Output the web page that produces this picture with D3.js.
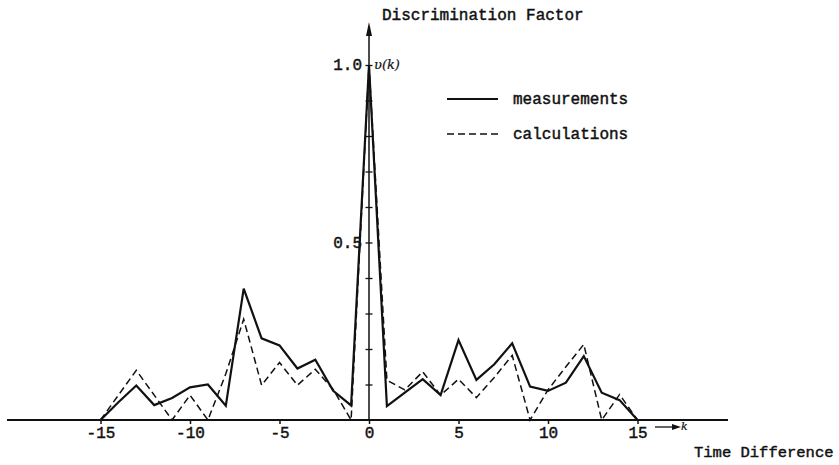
<!DOCTYPE html>
<html>
<head>
<meta charset="utf-8">
<script src="https://cdn.jsdelivr.net/npm/d3@7"></script>
<style>
  body { margin: 0; background: #fff; }
  text { font-family: "Liberation Mono", "DejaVu Sans Mono", monospace; fill: #111; stroke: #111; stroke-width: 0.45px; }
</style>
</head>
<body>
<div id="chart"></div>
<script>
var width = 839, height = 465;

// time difference k
var kValues = d3.range(-15, 16);

// discrimination factor v(k)
var measurements = [0, 0.05, 0.097, 0.042, 0.062, 0.092, 0.10, 0.04, 0.37, 0.23, 0.21, 0.145, 0.17, 0.082, 0.041,
    1.0,
    0.039, 0.077, 0.115, 0.070, 0.225, 0.113, 0.157, 0.216, 0.094, 0.082, 0.105, 0.180, 0.077, 0.056, 0];
var calculations = [0, 0.07, 0.14, 0.07, 0, 0.07, 0, 0.13, 0.284, 0.098, 0.162, 0.098, 0.143, 0.086, 0,
    1.0,
    0.112, 0.085, 0.136, 0.07, 0.115, 0.063, 0.12, 0.182, 0, 0.085, 0.15, 0.213, 0, 0.072, 0];

var xTicks = [-15, -10, -5, 0, 5, 10, 15];
var yTicks = d3.range(1, 11).map(function(i){ return i / 10; });
var yLabels = [0.5, 1.0];

var legendItems = [
    {name: 'measurements', dash: null},
    {name: 'calculations', dash: '7,4'}
];

var x = d3.scaleLinear().domain([-15, 15]).range([100.5, 637.5]);
var y = d3.scaleLinear().domain([0, 1]).range([420, 65]);

var svg = d3.select('#chart').append('svg')
    .attr('width', width)
    .attr('height', height);

// baseline
svg.append('line')
    .attr('x1', 7).attr('x2', 728)
    .attr('y1', y(0)).attr('y2', y(0))
    .attr('stroke', '#111').attr('stroke-width', 2);

// x ticks
var xAxis = svg.append('g')
    .attr('transform', 'translate(0,' + y(0) + ')')
    .call(d3.axisBottom(x).tickValues(xTicks).tickSize(4).tickPadding(3)
        .tickFormat(function(d){ return d < 0 ? '-' + (-d) : d; }));
xAxis.select('.domain').remove();
xAxis.selectAll('.tick line').attr('stroke', '#111').attr('stroke-width', 1.5);
xAxis.selectAll('.tick text')
    .style('font-family', '"Liberation Mono", monospace')
    .style('font-size', '16px')
    .attr('fill', '#111');

// y axis with arrow
var x0 = x(0);
svg.append('line')
    .attr('x1', x0).attr('x2', x0)
    .attr('y1', y(0)).attr('y2', 30)
    .attr('stroke', '#111').attr('stroke-width', 1.5);
svg.append('path')
    .attr('d', 'M' + x0 + ',22 L' + (x0 - 3) + ',36 L' + (x0 + 3) + ',36 Z')
    .attr('fill', '#111');

var yAxis = svg.append('g')
    .attr('transform', 'translate(' + x0 + ',0)')
    .call(d3.axisLeft(y).tickValues(yTicks).tickSize(7).tickFormat(''));
yAxis.select('.domain').remove();
yAxis.selectAll('.tick line')
    .attr('transform', 'translate(3.5,0)')
    .attr('stroke', '#111').attr('stroke-width', 1.3);

svg.selectAll('.ylabel')
    .data(yLabels)
    .enter()
    .append('text')
    .attr('class', 'ylabel')
    .attr('x', x0 - 7)
    .attr('y', function(d){ return y(d) + 5; })
    .attr('text-anchor', 'end')
    .style('font-size', '16px')
    .text(function(d){ return d.toFixed(1); });

svg.append('text')
    .attr('x', x0 + 5).attr('y', y(1) + 4)
    .style('font-family', '"DejaVu Serif", serif')
    .style('font-style', 'italic')
    .style('font-size', '13px')
    .style('stroke-width', '0.2px')
    .text('υ(k)');

// title
svg.append('text')
    .attr('x', 382).attr('y', 20)
    .style('font-size', '16px')
    .text('Discrimination Factor');

// x axis label with arrow
svg.append('line')
    .attr('x1', 655).attr('x2', 673)
    .attr('y1', 427).attr('y2', 427)
    .attr('stroke', '#111').attr('stroke-width', 1.3);
svg.append('path')
    .attr('d', 'M681,427 L672,424 L672,430 Z')
    .attr('fill', '#111');
svg.append('text')
    .attr('x', 681).attr('y', 430)
    .style('font-family', '"DejaVu Serif", serif')
    .style('font-style', 'italic')
    .style('font-size', '11px')
    .style('stroke-width', '0.2px')
    .text('k');
svg.append('text')
    .attr('x', 694).attr('y', 457)
    .style('font-size', '15.5px')
    .text('Time Difference');

// series
var line = d3.line()
    .x(function(d){ return x(d[0]); })
    .y(function(d){ return y(d[1]); });

svg.append('path')
    .datum(d3.zip(kValues, calculations))
    .attr('d', line)
    .attr('fill', 'none')
    .attr('stroke', '#111')
    .attr('stroke-width', 1.5)
    .attr('stroke-dasharray', '7,4');

svg.append('path')
    .datum(d3.zip(kValues, measurements))
    .attr('d', line)
    .attr('fill', 'none')
    .attr('stroke', '#111')
    .attr('stroke-width', 2.2)
    .attr('stroke-linejoin', 'miter');

// legend
var legend = svg.selectAll('.legend')
    .data(legendItems)
    .enter()
    .append('g')
    .attr('class', 'legend')
    .attr('transform', function(d, i){ return 'translate(447,' + (99 + i * 35) + ')'; });

legend.append('line')
    .attr('x1', 0).attr('x2', 51)
    .attr('y1', 0).attr('y2', 0)
    .attr('stroke', '#111')
    .attr('stroke-width', function(d){ return d.dash ? 1.5 : 2; })
    .attr('stroke-dasharray', function(d){ return d.dash; });

legend.append('text')
    .attr('x', 66).attr('y', 5)
    .style('font-size', '16px')
    .text(function(d){ return d.name; });
</script>
</body>
</html>
